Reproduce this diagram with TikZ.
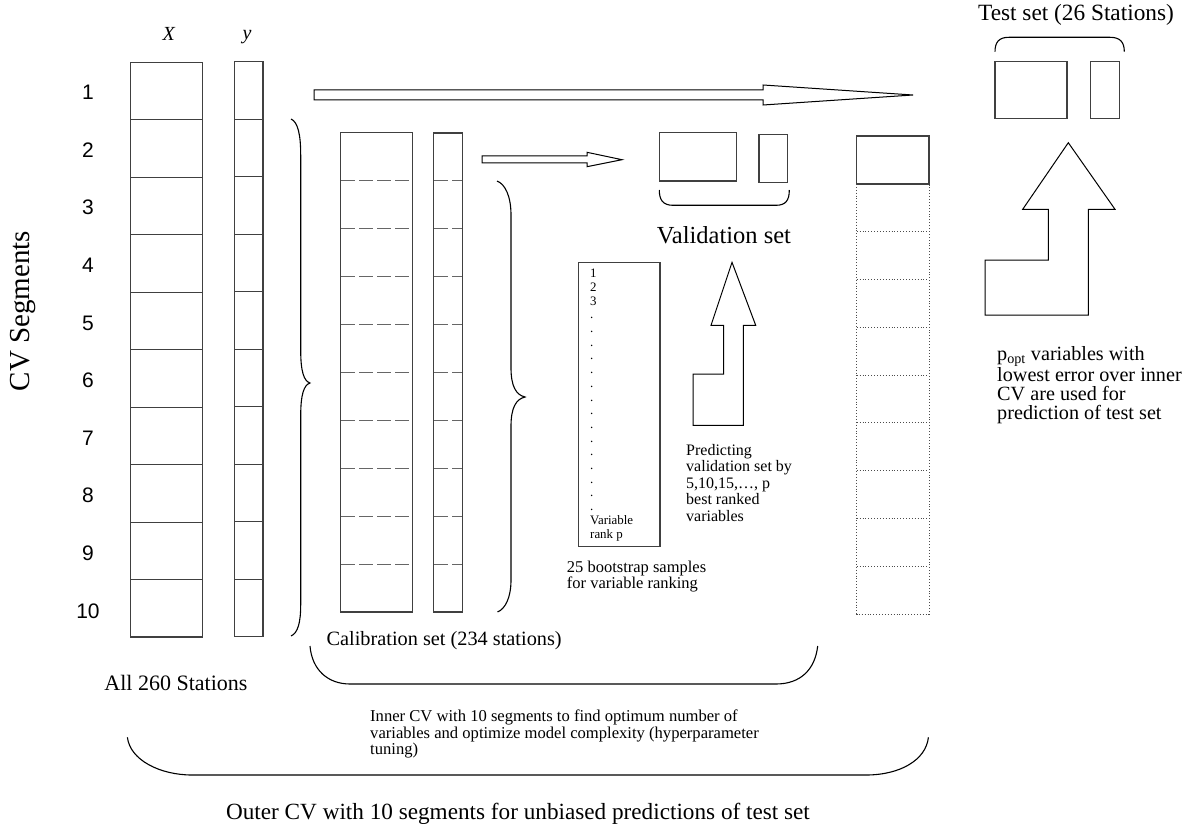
\documentclass[tikz,border=0pt]{standalone}
\usepackage{fontspec}
\setmainfont{Liberation Serif}
\newfontfamily\arialfont{Liberation Sans}
\newcommand{\fsz}[2]{\fontsize{#1}{#2}\selectfont}
\tikzset{
        colbox/.style={draw=black!75, line width=1.1pt},
        dashseg/.style={draw=black!60, line width=1.1pt, dash pattern=on 14pt off 4pt},
        dotseg/.style={draw=black!70, line width=0.9pt, dotted},
        blockarrow/.style={draw=black, line width=1pt, fill=white},
        brace/.style={draw=black, line width=1.1pt},
        txt/.style={inner sep=0pt}
    }

\begin{document}
\begin{tikzpicture}[x=1pt,y=-1pt]
\useasboundingbox (0,0) rectangle (1188,829);

\node[txt,font=\fsz{29}{30},rotate=90] (cvseg) at (23,311) {CV Segments};
\node[txt,font=\fsz{20}{22}] (xlab) at (169,34) {\textit{X}};
\node[txt,font=\fsz{20}{22}] (ylab) at (247,37) {\textit{y}};
\foreach \k in {1,...,10}
  \node[txt,font=\arialfont\fsz{21}{24}] (seg\k) at (88,{92.5+57.6*(\k-1)}) {\k};

\draw[colbox] (130.3,62.3) rectangle (202.3,637);
\draw[colbox] (234.3,61.7) rectangle (263,636.7);
\foreach \k in {1,...,9}{
  \draw[colbox] (130.3,{62.3+57.47*\k}) -- (202.3,{62.3+57.47*\k});
  \draw[colbox] (234.3,{61.7+57.5*\k}) -- (263,{61.7+57.5*\k});
}
\node[txt,font=\fsz{22}{24}] (all) at (176,683.3) {All 260 Stations};

\draw[blockarrow] (314,90) -- (763,90) -- (763,85) -- (913,95) -- (763,105) -- (763,100) -- (314,100) -- cycle;

\draw[brace] (291,119) .. controls (298,122) and (300.7,135) .. (300.7,155) -- (300.7,350)
  .. controls (300.7,372) and (304,381) .. (310,383) .. controls (304,385) and (300.7,394) .. (300.7,416)
  -- (300.7,605) .. controls (300.7,622) and (298,633) .. (291,636);

\draw[colbox] (340.5,132.7) rectangle (412.6,612);
\draw[colbox] (433.5,133) rectangle (462.3,612);
\foreach \k in {1,...,9}{
  \draw[dashseg] (341,{132.7+47.93*\k}) -- (412,{132.7+47.93*\k});
  \draw[dashseg] (434,{133+47.9*\k}) -- (462,{133+47.9*\k});
}
\node[txt,font=\fsz{20.3}{23},anchor=west] (calib) at (326.4,641) {Calibration set (234 stations)};

\draw[blockarrow] (482,156) -- (587,156) -- (587,152.3) -- (622,159.7) -- (587,166.7) -- (587,163) -- (482,163) -- cycle;

\draw[brace] (497,181) .. controls (505,184) and (511,196) .. (511,215) -- (511,368)
  .. controls (511,386) and (516,395) .. (525,397) .. controls (516,399) and (511,408) .. (511,426)
  -- (511,580) .. controls (511,598) and (505,609) .. (497.5,612);

\draw[colbox] (659.3,132.7) rectangle (736.3,181);
\draw[colbox] (759,134.3) rectangle (787.7,182.3);
\draw[brace] (659.3,190) .. controls (659.3,200) and (663,205.3) .. (673,205.3) -- (776,205.3)
  .. controls (786,205.3) and (789.3,200) .. (789.3,190);
\node[txt,font=\fsz{24.5}{26}] (valid) at (724,235) {Validation set};

\draw[colbox] (578.3,262.3) rectangle (660,546.7);
\node[txt,font=\fsz{12.9}{13.7},align=left,anchor=west] (rank) at (590,405)
  {1\\2\\3\\.\\.\\.\\.\\.\\.\\.\\.\\.\\.\\.\\.\\.\\.\\.\\Variable\\rank p};
\node[txt,font=\fsz{16.5}{16.7},align=left,anchor=west] (boot) at (566.7,576.7)
  {25 bootstrap samples\\for variable ranking};

\draw[blockarrow] (732,262.3) -- (755.7,325.3) -- (743.3,325.3) -- (743.3,425.3) -- (693,425.3)
  -- (693,374) -- (723.7,374) -- (723.7,325.3) -- (711,325.3) -- cycle;
\node[txt,font=\fsz{16}{16.5},align=left,anchor=west] (pred) at (686,483)
  {Predicting\\validation set by\\5,10,15,…, p\\best ranked\\variables};

\draw[colbox] (856.7,136) rectangle (929,184);
\draw[dotseg] (856.7,184) -- (856.7,614) -- (929,614) -- (929,184);
\foreach \k in {2,...,9}
  \draw[dotseg] (856.7,{136+47.8*\k}) -- (929,{136+47.8*\k});

\node[txt,font=\fsz{23.3}{25}] (test) at (1076,15) {Test set (26 Stations)};
\draw[brace] (995,51.7) .. controls (995,42) and (999,37.3) .. (1009,37.3) -- (1110,37.3)
  .. controls (1120,37.3) and (1124.3,42) .. (1124.3,51.7);
\draw[colbox] (995,61.7) rectangle (1067,118.3);
\draw[colbox] (1090.7,61.7) rectangle (1119.3,118.3);

\draw[blockarrow] (1068.3,142.7) -- (1115,209.3) -- (1088.3,209.3) -- (1088.3,315) -- (985,315)
  -- (985,260) -- (1048.3,260) -- (1048.3,209.3) -- (1022.7,209.3) -- cycle;
\node[txt,font=\fsz{20.2}{19},align=left,anchor=west] (popt) at (997,385)
  {p\textsubscript{opt} variables with\\lowest error over inner\\CV are used for\\prediction of test set};

\draw[brace] (310,646) .. controls (312,670) and (328,684) .. (350,684) -- (776,684)
  .. controls (800,684) and (815,670) .. (817.7,646);
\node[txt,font=\fsz{16.6}{16.5},align=left,anchor=west] (inner) at (370,734)
  {Inner CV with 10 segments to find optimum number of\\variables and optimize model complexity (hyperparameter\\tuning)};

\draw[brace] (127.4,737.3) .. controls (130,760) and (160,775) .. (192,775) -- (866,775)
  .. controls (900,775) and (926,760) .. (928.4,737.3);
\node[txt,font=\fsz{23.2}{25}] (outer) at (518,814) {Outer CV with 10 segments for unbiased predictions of test set};

\end{tikzpicture}
\end{document}
